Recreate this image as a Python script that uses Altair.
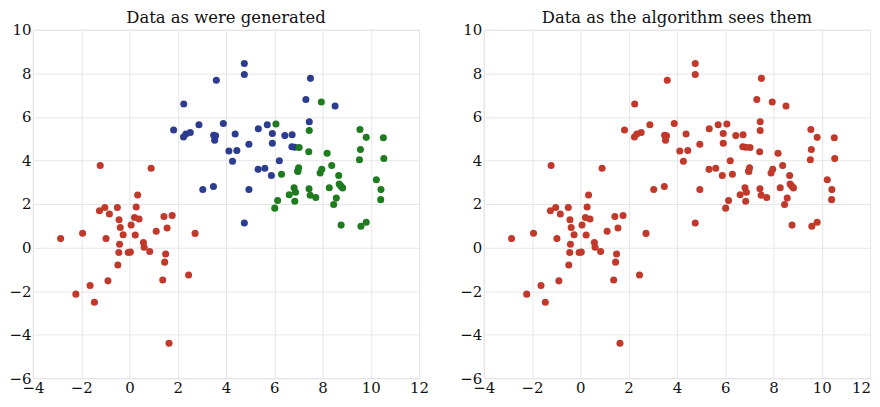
import altair as alt
import pandas as pd

# ---- data ----
red_x = [-2.85, -1.94, -1.21, -1.24, -1.02, -0.83, -0.97, -0.50, -0.43, -0.38,
         -0.26, -0.41, -0.44, -0.48, -0.89, -1.63, -2.22, -1.45, -0.05, 0.04,
         0.07, 0.21, 0.28, 0.34, 0.40, 0.24, 0.58, 0.61, 0.84, 0.90,
         1.11, 1.43, 1.77, 1.56, 1.50, 1.46, 1.38, 2.45, 2.72, 1.64]
red_y = [0.41, 0.66, 3.77, 1.69, 1.84, 1.54, 0.41, 1.84, 1.28, 0.92,
         0.59, 0.15, -0.23, -0.80, -1.53, -1.74, -2.14, -2.51, -0.23, -0.21,
         1.04, 1.38, 1.86, 2.41, 1.31, 0.58, 0.23, 0.01, -0.18, 3.64,
         0.75, 1.43, 1.47, 0.90, -0.30, -0.67, -1.49, -1.26, 0.65, -4.40]

blue_x = [1.83, 2.24, 2.34, 2.52, 2.25, 2.88, 3.89, 3.60, 4.76, 4.76,
          3.49, 3.57, 3.53, 4.38, 4.95, 4.12, 4.45, 4.27, 3.04, 3.48,
          4.95, 4.76, 5.34, 5.71, 5.92, 5.92, 6.44, 6.74, 6.73, 6.85,
          6.21, 5.33, 5.61, 5.88, 7.50, 7.31, 8.52, 7.45, 6.97]
blue_y = [5.40, 5.08, 5.21, 5.28, 6.59, 5.64, 5.70, 7.68, 8.45, 7.95,
          5.16, 5.13, 4.93, 5.21, 4.74, 4.43, 4.46, 3.96, 2.67, 2.80,
          2.67, 1.13, 5.46, 5.64, 5.24, 4.79, 5.14, 5.18, 4.63, 4.61,
          3.99, 3.59, 3.64, 3.31, 7.77, 6.80, 6.50, 5.78, 3.52]

green_x = [7.95, 6.07, 7.45, 7.03, 7.43, 8.19, 9.55, 9.81, 10.52, 9.57,
           9.53, 10.54, 8.38, 7.97, 7.90, 7.01, 6.98, 6.30, 8.67, 8.69,
           8.76, 8.83, 8.28, 10.23, 10.42, 10.41, 6.82, 6.88, 6.62, 6.85,
           7.44, 7.49, 7.72, 8.57, 8.46, 6.14, 6.02, 8.77, 9.59, 9.81]
green_y = [6.68, 5.67, 5.38, 4.59, 4.40, 4.33, 5.42, 5.06, 5.04, 4.50,
           4.03, 4.09, 3.77, 3.59, 3.42, 3.66, 3.49, 3.37, 3.31, 2.92,
           2.82, 2.74, 2.75, 3.11, 2.66, 2.20, 2.75, 2.54, 2.42, 2.13,
           2.70, 2.40, 2.30, 2.27, 1.98, 2.16, 1.81, 1.03, 0.98, 1.16]

cluster_names = ["red", "blue", "green"]
cluster_colors = ["#c0392b", "#2c3d8f", "#1e7b1e"]
x_ticks = [-4, -2, 0, 2, 4, 6, 8, 10, 12]
y_ticks = [-6, -4, -2, 0, 2, 4, 6, 8, 10]
titles = ["Data as were generated", "Data as the algorithm sees them"]

df = pd.concat([
    pd.DataFrame({"x": red_x, "y": red_y, "cluster": "red"}),
    pd.DataFrame({"x": blue_x, "y": blue_y, "cluster": "blue"}),
    pd.DataFrame({"x": green_x, "y": green_y, "cluster": "green"}),
], ignore_index=True)
df["order"] = range(len(df))

W, H = 388, 350

xscale = alt.Scale(domain=[-4, 12], nice=False, zero=False)
yscale = alt.Scale(domain=[-6, 10], nice=False, zero=False)
yenc = alt.Y("y:Q", scale=yscale, axis=alt.Axis(values=y_ticks, title=None))

left = alt.Chart(df, title=titles[0]).mark_circle(size=50, opacity=1).encode(
    x=alt.X("x:Q", scale=xscale, axis=alt.Axis(values=x_ticks, title=None)),
    y=yenc,
    color=alt.Color("cluster:N", scale=alt.Scale(domain=cluster_names, range=cluster_colors), legend=None),
    order=alt.Order("order:Q"),
).properties(width=W, height=H)

right = alt.Chart(df, title=titles[1]).mark_circle(size=50, opacity=1, color=cluster_colors[0]).encode(
    x=alt.X("x:Q", scale=xscale, axis=alt.Axis(
        values=x_ticks, title=None,
        labelOffset={"condition": {"test": "datum.value == 12", "value": -9}, "value": 0})),
    y=yenc,
    order=alt.Order("order:Q"),
).properties(width=W, height=H)

chart = alt.hconcat(left, right, spacing=29).properties(
    padding={"left": 0, "top": 1, "right": 0, "bottom": 0}
).configure_view(
    stroke="#dcdcdc", strokeWidth=1
).configure_axis(
    domain=False, ticks=False, grid=True, gridColor="#e6e6e6", gridWidth=1,
    labelFont="DejaVu Serif", labelFontSize=15, labelColor="#111111",
    labelPadding=2, labelFlush=False, labelOverlap=False
).configure_title(
    font="DejaVu Serif", fontSize=16.5, fontWeight="normal", color="#111111", offset=-4
)

chart.save("out.html", embed_options={"renderer": "svg", "actions": False})
